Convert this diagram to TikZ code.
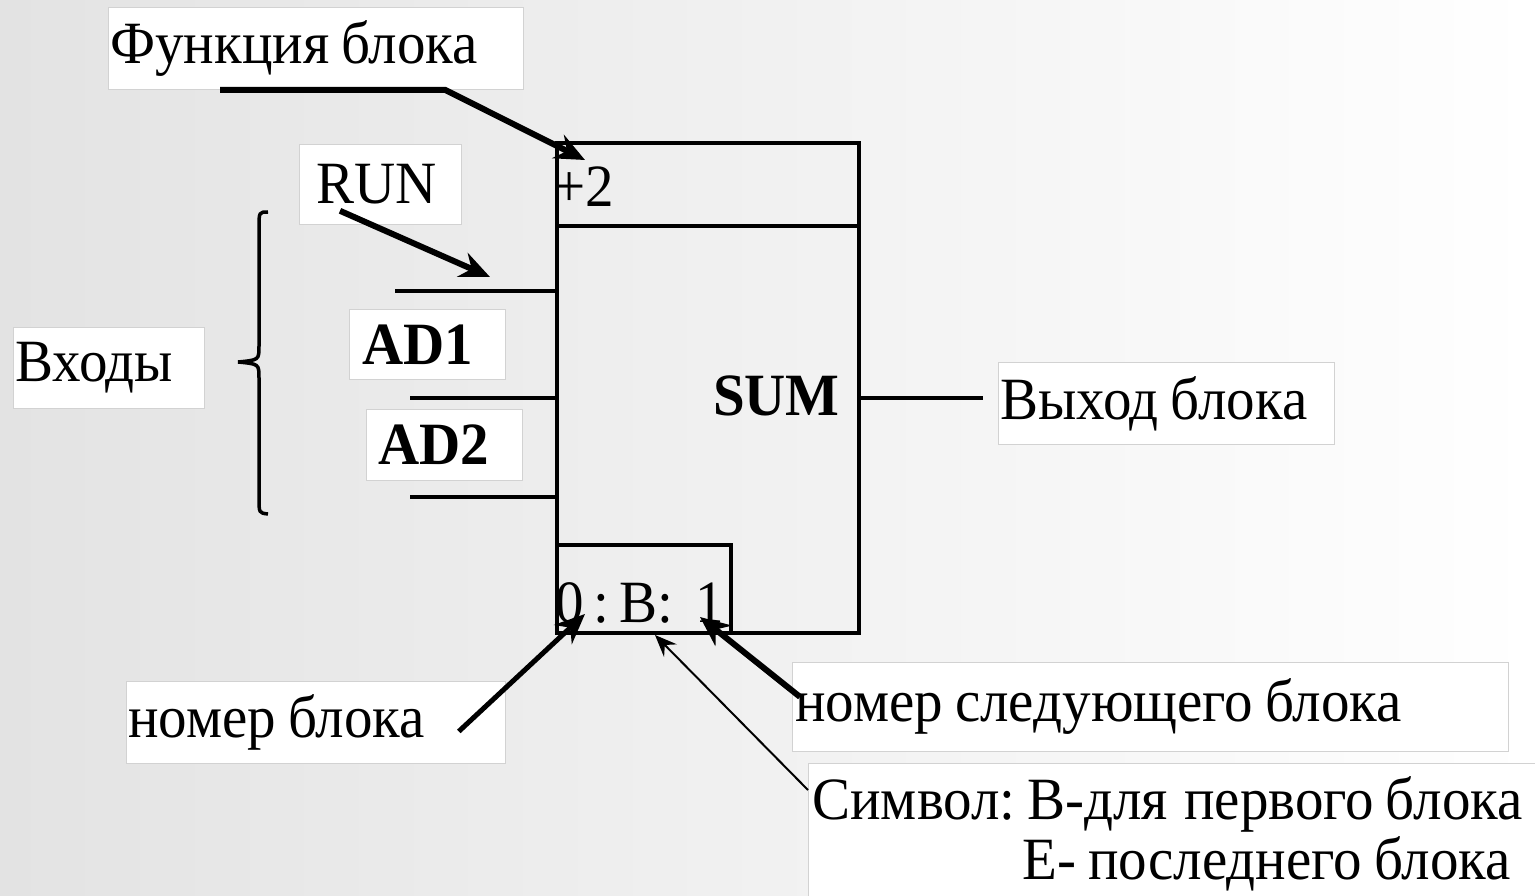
\documentclass[tikz,border=0pt]{standalone}
\usepackage{fontspec}
\setmainfont{Liberation Serif}[FakeStretch=0.95]
\usetikzlibrary{arrows.meta}
\frenchspacing

\tikzset{
  etiq/.style={draw=gray!35, line width=0.8pt, fill=white, anchor=north west,
    inner ysep=0pt, align=left},
  fleche/.style={line width=6pt, -{Stealth[length=30pt,width=26pt,inset=10pt]}},
  fil/.style={line width=4pt},
  every node/.append style={execute at begin node={\frenchspacing\spaceskip=12pt plus 1pt minus 1pt\relax}},
}

\begin{document}
\begin{tikzpicture}[x=1pt,y=-1pt, font=\fontsize{60}{60}\selectfont]
  % fond en dégradé
  \shade[left color=gray!22, right color=white] (0,0) rectangle (1535,896);
  \useasboundingbox (0,0) rectangle (1535,896);

  % le bloc
  \draw[fil] (557,143) rectangle (859,633);
  \draw[fil] (557,226) -- (859,226);
  \draw[fil] (557,545) -- (731,545) -- (731,633);
  \node[anchor=base west, inner sep=0pt] (fonc) at (553,207) {+2};
  \node[anchor=base west, inner sep=0pt] (num) at (555,622) {0\,:\,B:\ \,1};
  \node[anchor=base east, inner sep=0pt, font=\fontsize{60}{60}\selectfont\bfseries] (somme) at (840,415) {SUM};

  % entrées
  \foreach \x/\y in {395/291, 410/398, 410/497}
    \draw[fil] (\x,\y) -- (557,\y);
  \draw[line width=3.5pt] (268,212) .. controls (259,212) .. (259,228) -- (259,346)
    .. controls (259,360) .. (238,362) .. controls (259,364) .. (259,378)
    -- (259,498) .. controls (259,513) .. (268,514);

  % étiquettes
  \node[etiq, inner xsep=2pt, text width=411pt, minimum height=82pt] (fonction) at (108,7) {Функция блока};
  \node[etiq, inner xsep=17pt, text width=128pt, minimum height=80pt] (run) at (299,144) {RUN};
  \node[etiq, inner xsep=2pt, text width=187pt, minimum height=81pt] (entrees) at (13,327) {Входы};
  \node[etiq, inner xsep=13pt, text width=130pt, minimum height=70pt, font=\fontsize{60}{60}\selectfont\bfseries] (ad1) at (349,309) {AD1};
  \node[etiq, inner xsep=12pt, text width=132pt, minimum height=71pt, font=\fontsize{60}{60}\selectfont\bfseries] (ad2) at (366,409) {AD2};
  \node[etiq, inner xsep=2pt, text width=332pt, minimum height=82pt] (sortie) at (998,362) {Выход блока};
  \node[etiq, inner xsep=2pt, text width=375pt, minimum height=82pt] (nomer) at (126,681) {номер блока};
  \node[etiq, inner xsep=3pt, text width=710pt, minimum height=89pt] (suivant) at (792,662) {номер следующего блока};
  \node[etiq, inner xsep=4pt, text width=800pt, minimum height=140pt] (symbole) at (808,763)
    {Символ: В-для\hspace{16pt}первого блока\\\hspace*{210pt}Е- последнего блока};

  % flèches
  \coordinate (pfonc) at (585,160);
  \coordinate (prun) at (490,277);
  \coordinate (pnum) at (585,614);
  \coordinate (psuiv) at (700,617);
  \coordinate (psym) at (655,635);
  \coordinate (psortie) at (983,398);
  \draw[fleche] ([xshift=112pt]fonction.south west) -- ++(225,0) -- (pfonc);
  \draw[fleche] ([xshift=41pt,yshift=14pt]run.south west) -- (prun);
  \draw[fleche, line width=5pt] ([xshift=-47pt,yshift=-9pt]nomer.east) -- (pnum);
  \draw[fleche] ([xshift=8pt,yshift=10pt]suivant.west) -- (psuiv);
  \draw[line width=2pt, -{Stealth[length=22pt,width=18pt,inset=8pt]}] ([yshift=-27pt]symbole.north west) -- (psym);
  \draw[fil] (859,398) -- (psortie);
\end{tikzpicture}
\end{document}
